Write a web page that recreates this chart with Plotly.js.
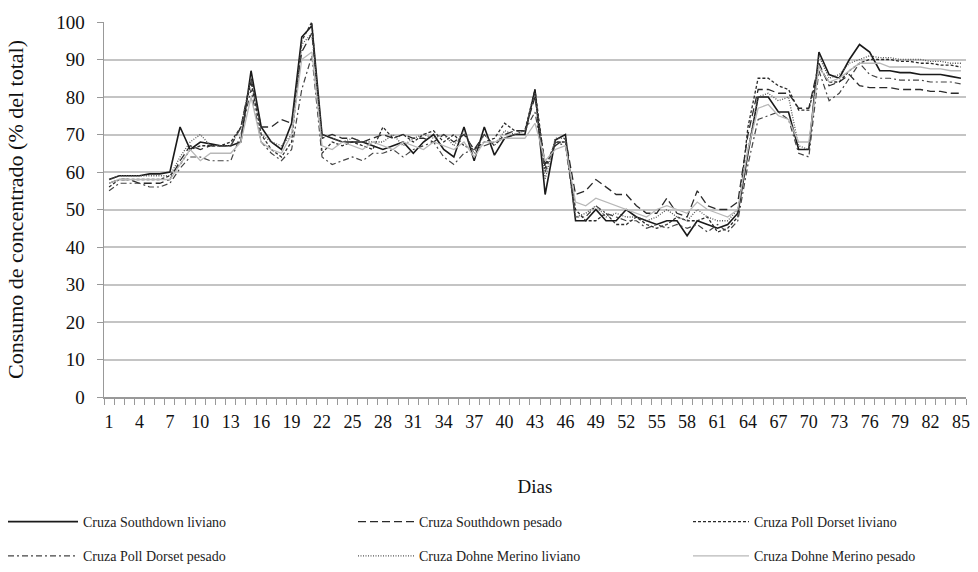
<!DOCTYPE html>
<html><head><meta charset="utf-8">
<script src="https://cdn.plot.ly/plotly-3.0.1.min.js"></script>
<style>html,body{margin:0;padding:0;background:#fff}#chart{width:978px;height:572px}</style>
</head><body><div id="chart"></div>
<script>
const days = Array.from({length: 85}, (_, i) => i + 1);
const tickDays = [1,4,7,10,13,16,19,22,25,28,31,34,37,40,43,46,49,52,55,58,61,64,67,70,73,76,79,82,85];

const southdownLiviano = [58,59,59,59,59.5,59.5,60,72,66,68,67.5,67,67,68,87,72,68,66,73,96,99,70,69,68,68,68,67,66,67,68,65,68,70,66,64,72,63,72,64.5,69,70,70,82,54,68.5,70,47,47,50,47,47,50,48,47,46,47,47,43,47,46,45,46,49,65,80,80,76,76,66,66,92,86,85,90,94,92,87,87,86.5,86.5,86,86,86,85.5,85];
const southdownPesado = [57,58,58,57,57,57,58,63,67,66,67,67,67,72,85,72,72,74,73,92,97,69,70,69,69,68,69,70,69,70,69,69,68,70,68,70,66,70,67,70,71,71,80,62,67,69,54,55,58,56,54,54,51,49,49,53,49,48,55,51,50,50,52,70,82,82,81,81,77,77,89,83,84,86,83,82.5,82.5,82.5,82,82,82,81.5,81.5,81,81];
const pollDorsetLiviano = [56,58,58,58,58,58,59,62,66,67,67,67,68,72,84,70,66,64,68,95,100,65,68,67,68,67,66,72,69,70,68,70,71,68,70,67,66,68,69,73,71,71,82,61,68,68,50,47,47,49,46,46,48,46,45,46,48,47,47,48,44,45,48,72,85,85,83,82,76.5,76.5,88,84,84,87,89,90,90,90,89.5,89.5,89,89,88.5,88.5,88];
const pollDorsetPesado = [55,57,57,57,56,56,57,61,64,64,63,63,63,70,82,68,65,63,66,82,91,64,62,63,64,63,65,65,66,64,66,67,68,64,62,65,66,67,68,69,70,71,76,60,68,67,48,48,51,49,48,47,47,45,46,45,46,45,46,44,46,44,47,62,74,75,76,74,65,64,87,79,81,85,89,86,85,85,84.5,84.5,84.5,84,84,84,83.5];
const dohneMerinoLiviano = [58,59,59,59,59,59,59,64,68,70,67,67,67,72,85,70,68,67,70,94,97,70,69,68,69,68,68,68,70,67,69,70,69,70,67,71,65,70,67,71,70,71,81,58,69,69,48,49,51,48,49,48,48,47,48,50,48,47,50,48,47,47,50,66,80,81,79,80,67,66,91,85,86,89,90,91,90.5,90.5,90,90,90,89.5,89.5,89,89];
const dohneMerinoPesado = [57,58,58,58,58,58,58,62,66,63,65,65,65,68,80,68,66,65,70,90,92,67,66,68,67,66,68,67,66,68,67,66,68,67,66,68,64,68,68,69,69,69,73,63,66,67,52,51,53,52,51,50,49,48,50,51,50,49,52,50,49,48,50,66,77,78,75,74,68,68,88,84,85,87,89,89,89,88,88,88,88,87.5,87.5,87,87];

const seriesNames = ['Cruza Southdown liviano','Cruza Southdown pesado','Cruza Poll Dorset liviano','Cruza Poll Dorset pesado','Cruza Dohne Merino liviano','Cruza Dohne Merino pesado'];
const seriesValues = [southdownLiviano, southdownPesado, pollDorsetLiviano, pollDorsetPesado, dohneMerinoLiviano, dohneMerinoPesado];
const styles = [
  {color:'#1a1a1a', dash:'solid', width:1.6},
  {color:'#2a2a2a', dash:'8px,4px', width:1.3},
  {color:'#2a2a2a', dash:'3px,2px', width:1.3},
  {color:'#444444', dash:'6px,3px,2px,3px', width:1.2},
  {color:'#555555', dash:'1px,1.5px', width:1.3},
  {color:'#b8b8b8', dash:'solid', width:1.3}
];
const legendIds = ['legend','legend2','legend3','legend','legend2','legend3'];

const traces = seriesValues.map((vals, i) => ({
  x: days, y: vals, type:'scatter', mode:'lines', name: seriesNames[i],
  legend: legendIds[i], legendgroup: 'g' + i,
  line: {color: styles[i].color, dash: styles[i].dash, width: styles[i].width}
}));

const figH = 572, marginT = 22, plotBottomPx = 397;
const paperH = figH - marginT;
const plotL = 104, plotW = 978 - 104 - 12;
function legendAt(xpx, itemw) {
  return {orientation:'v', xref:'paper', yref:'paper',
    x: (xpx - plotL) / plotW, xanchor:'left', y: 0, yanchor:'bottom',
    itemwidth: itemw, font:{size:14, color:'#222'}, tracegroupgap: 13,
    bgcolor:'rgba(0,0,0,0)', borderwidth:0};
}

const layout = {
  width: 978, height: figH,
  margin: {l:104, r:12, t:marginT, b:0},
  paper_bgcolor:'#fff', plot_bgcolor:'#fff',
  font: {family:'"Liberation Serif", "Times New Roman", serif', color:'#111'},
  xaxis: {
    range:[0.5, 85.5], tickmode:'array', tickvals: tickDays, ticktext: tickDays.map(String),
    ticks:'', showgrid:false, zeroline:false, showline:true, linecolor:'#999', linewidth:1.5,
    tickfont:{size:18}, ticklabelstandoff: 8, automargin:false,
    minor:{tick0:0.5, dtick:1, ticks:'outside', ticklen:6, tickcolor:'#999', tickwidth:1, showgrid:false},
    title:{text:'Dias', font:{size:19}, standoff:48}
  },
  yaxis: {
    domain:[(figH - plotBottomPx) / paperH, 1],
    range:[0,100], tickvals:[0,10,20,30,40,50,60,70,80,90,100],
    showgrid:true, gridcolor:'#c4c4c4', gridwidth:2, zeroline:false,
    showline:true, linecolor:'#999', linewidth:1.5,
    ticks:'outside', ticklen:6, tickcolor:'#999', automargin:false,
    tickfont:{size:19}, ticklabelstandoff: 8,
    title:{text:'Consumo de concentrado (% del total)', font:{size:22}, standoff:26}
  },
  showlegend:true,
  legend: legendAt(3, 70),
  legend2: legendAt(353, 56),
  legend3: legendAt(688, 56)
};
Plotly.newPlot('chart', traces, layout, {displayModeBar:false, staticPlot:true});
</script></body></html>
